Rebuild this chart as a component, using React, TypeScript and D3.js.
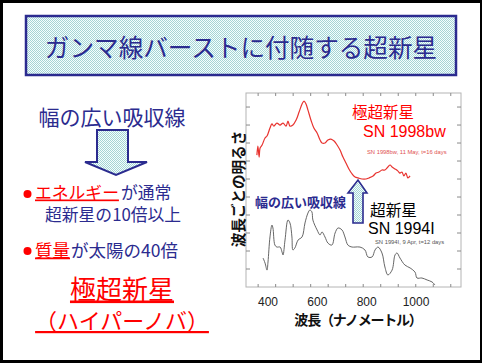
import React from 'react';
import * as d3 from 'd3';

// SN 1998bw (hypernova) spectrum, wavelength nm / relative flux
const bwWave = [355, 359, 364, 368, 376, 388, 396, 408, 416, 424, 436, 449, 461, 473, 481, 489, 501, 514, 526, 538, 546, 554, 562, 574, 586, 599, 611, 619, 631, 643, 655, 668, 680, 692, 704, 716, 728, 741, 753, 765, 781, 797, 809, 826, 838, 850, 862, 874, 886, 895, 903, 915, 927, 935, 943, 951, 959, 967, 976];
const bwFlux = [7.33, 7.83, 7.22, 7.72, 7.89, 8.28, 8.39, 8.83, 9.06, 8.94, 9.11, 9.0, 9.11, 8.94, 9.22, 8.94, 9.0, 9.28, 9.72, 10.17, 10.33, 10.17, 9.83, 9.28, 8.83, 8.56, 8.17, 8.0, 8.0, 8.17, 8.22, 8.11, 7.89, 7.61, 7.22, 6.89, 6.56, 6.28, 6.11, 6.06, 6.0, 6.0, 6.06, 6.17, 6.33, 6.39, 6.5, 6.5, 6.67, 6.78, 6.67, 6.56, 6.44, 6.33, 6.39, 6.17, 6.33, 6.06, 6.17];

// SN 1994I (ordinary supernova)
const iWave = [380, 388, 396, 400, 408, 416, 420, 428, 436, 449, 457, 461, 469, 481, 489, 497, 501, 509, 522, 538, 550, 562, 570, 578, 582, 599, 611, 619, 631, 643, 659, 672, 684, 700, 712, 724, 741, 753, 773, 793, 805, 822, 834, 846, 862, 874, 886, 903, 915, 923, 935, 955, 976, 996, 1004, 1024, 1045, 1065, 1077];
const iFlux = [1.61, 1.33, 0.94, 1.39, 2.78, 3.44, 3.28, 2.33, 2.22, 2.22, 1.94, 1.78, 2.61, 3.72, 3.56, 2.78, 2.06, 2.17, 2.61, 2.78, 3.56, 4.11, 4.28, 4.17, 3.72, 3.17, 2.89, 3.06, 2.78, 2.44, 2.33, 3.0, 3.28, 3.17, 2.78, 2.33, 2.22, 2.22, 2.22, 2.06, 1.67, 1.67, 2.06, 2.22, 1.89, 1.11, 0.67, 0.94, 1.78, 1.89, 1.61, 1.22, 1.06, 0.83, 0.5, 0.5, 0.39, 0.28, 0.11];

const xTickLabels = [400, 600, 800, 1000];
const yTicks = [1, 2, 3, 4, 5, 6, 7, 8, 9, 10];

const JP = '"Noto Sans CJK JP", sans-serif';
const AR = '"Liberation Sans", Arial, sans-serif';
const NAVY = '#2b2b8f';
const RED = '#ff0000';

const App = () => {
  const W = 482, H = 363;
  const left = 246, right = 461, top = 93, bottom = 287;

  const x = d3.scaleLinear().domain([400, 1000]).range([268, 416]);
  const y = d3.scaleLinear().domain([0, 10.78]).range([bottom, top]);

  const bwPath = d3.line<number>()
    .x((d, i) => x(bwWave[i]))
    .y((d) => y(d))
    .curve(d3.curveCatmullRom)(bwFlux);
  const iPath = d3.line<number>()
    .x((d, i) => x(iWave[i]))
    .y((d) => y(d))
    .curve(d3.curveCatmullRom)(iFlux);

  const minor = d3.range(360, 1200, 71).map((v) => x(v)).filter((p) => p > left + 2 && p < right - 2);

  return (
    <svg width={W} height={H} style={{ position: 'absolute', left: 0, top: 0 }}>
      <defs>
        <pattern id="dither" width="2" height="2" patternUnits="userSpaceOnUse">
          <rect width="2" height="2" fill="#f4ffff" />
          <rect width="1" height="1" fill="#a6d4d4" />
          <rect x="1" y="1" width="1" height="1" fill="#a6d4d4" />
        </pattern>
      </defs>
      <rect width={W} height={H} fill="#000" />
      <rect x={3} y={3} width={477} height={357} fill="#fff" />

      {/* title */}
      <rect x={26} y={16} width={430} height={59} fill="url(#dither)" stroke={NAVY} strokeWidth={2.5} />
      <text x={241} y={57} textAnchor="middle" fontFamily={JP} fontSize={24.6} fill={NAVY}>
        ガンマ線バーストに付随する超新星
      </text>

      {/* left column */}
      <text x={112} y={125} textAnchor="middle" fontFamily={JP} fontSize={21} fill={NAVY}>幅の広い吸収線</text>
      <path d="M97,130 L128,130 L128,162 L147,162 L116,175 L85,162 L97,162 Z" fill="url(#dither)" stroke={NAVY} strokeWidth={2} />

      <circle cx={27.5} cy={194} r={4} fill={RED} />
      <text x={35} y={198.5} fontFamily={JP} fontSize={16.8} fill={RED} style={{ textDecoration: 'underline' }}>エネルギー</text>
      <text x={121} y={198.5} fontFamily={JP} fontSize={16.8} fill={NAVY}>が通常</text>
      <text x={45} y={220.5} fontFamily={JP} fontSize={16.8} fill={NAVY}>超新星の10倍以上</text>
      <circle cx={27.5} cy={251} r={4} fill={RED} />
      <text x={35} y={256.5} fontFamily={JP} fontSize={17.5} fill={RED} style={{ textDecoration: 'underline' }}>質量</text>
      <text x={71} y={256.5} fontFamily={JP} fontSize={17.5} fill={NAVY}>が太陽の40倍</text>

      <text x={122} y={298.5} textAnchor="middle" fontFamily={JP} fontSize={26} fill={RED} style={{ textDecoration: 'underline' }}>極超新星</text>
      <text x={122} y={329} textAnchor="middle" fontFamily={JP} fontSize={22} fill={RED} style={{ textDecoration: 'underline' }}>（ハイパーノバ）</text>

      {/* chart frame */}
      <rect x={left} y={top} width={right - left} height={bottom - top} fill="none" stroke="#b4b4b4" strokeWidth={1} />
      {yTicks.map((t) => (
        <g key={t} stroke="#8a8a8a">
          <line x1={left} x2={left + 4} y1={y(t)} y2={y(t)} />
          <line x1={right - 4} x2={right} y1={y(t)} y2={y(t)} />
        </g>
      ))}
      {minor.map((p, i) => (
        <g key={i} stroke="#8a8a8a">
          <line x1={p} x2={p} y1={bottom} y2={bottom - 3} />
          <line x1={p} x2={p} y1={top} y2={top + 3} />
        </g>
      ))}
      {xTickLabels.map((t) => (
        <text key={t} x={x(t)} y={306} textAnchor="middle" fontFamily={AR} fontSize={12} fill="#222">{t}</text>
      ))}
      <text x={358} y={325} textAnchor="middle" fontFamily={JP} fontSize={14} fontWeight="bold" letterSpacing={-1.2} fill="#111">波長（ナノメートル）</text>
      <text transform="translate(237,189) rotate(-90)" textAnchor="middle" dominantBaseline="central" fontFamily={JP} fontSize={14.6} fontWeight="bold" fill="#111">波長ごとの明るさ</text>

      {/* spectra */}
      <path d={bwPath || ''} fill="none" stroke="#e8332f" strokeWidth={1.2} />
      <path d={iPath || ''} fill="none" stroke="#555" strokeWidth={0.9} />

      {/* annotations */}
      <text x={352} y={118} fontFamily={JP} fontSize={15.5} fill={RED}>極超新星</text>
      <text x={363} y={137} fontFamily={AR} fontSize={16} fill={RED}>SN 1998bw</text>
      <text x={367} y={154} fontFamily={AR} fontSize={5.8} fill="#e05050">SN 1998bw, 11 May, t=16 days</text>
      <text x={255} y={207} fontFamily={JP} fontSize={13} fontWeight="bold" fill={NAVY}>幅の広い吸収線</text>
      <path d="M353,223 L353,193 L348,193 L358,180 L367,193 L363,193 L363,223 Z" fill="url(#dither)" stroke={NAVY} strokeWidth={1.6} />
      <text x={370} y={216} fontFamily={JP} fontSize={15.7} fill="#000">超新星</text>
      <text x={368} y={234} fontFamily={AR} fontSize={16} fill="#000">SN 1994I</text>
      <text x={375} y={244} fontFamily={AR} fontSize={5.8} fill="#555">SN 1994I, 9 Apr, t=12 days</text>
    </svg>
  );
};

export default App;
